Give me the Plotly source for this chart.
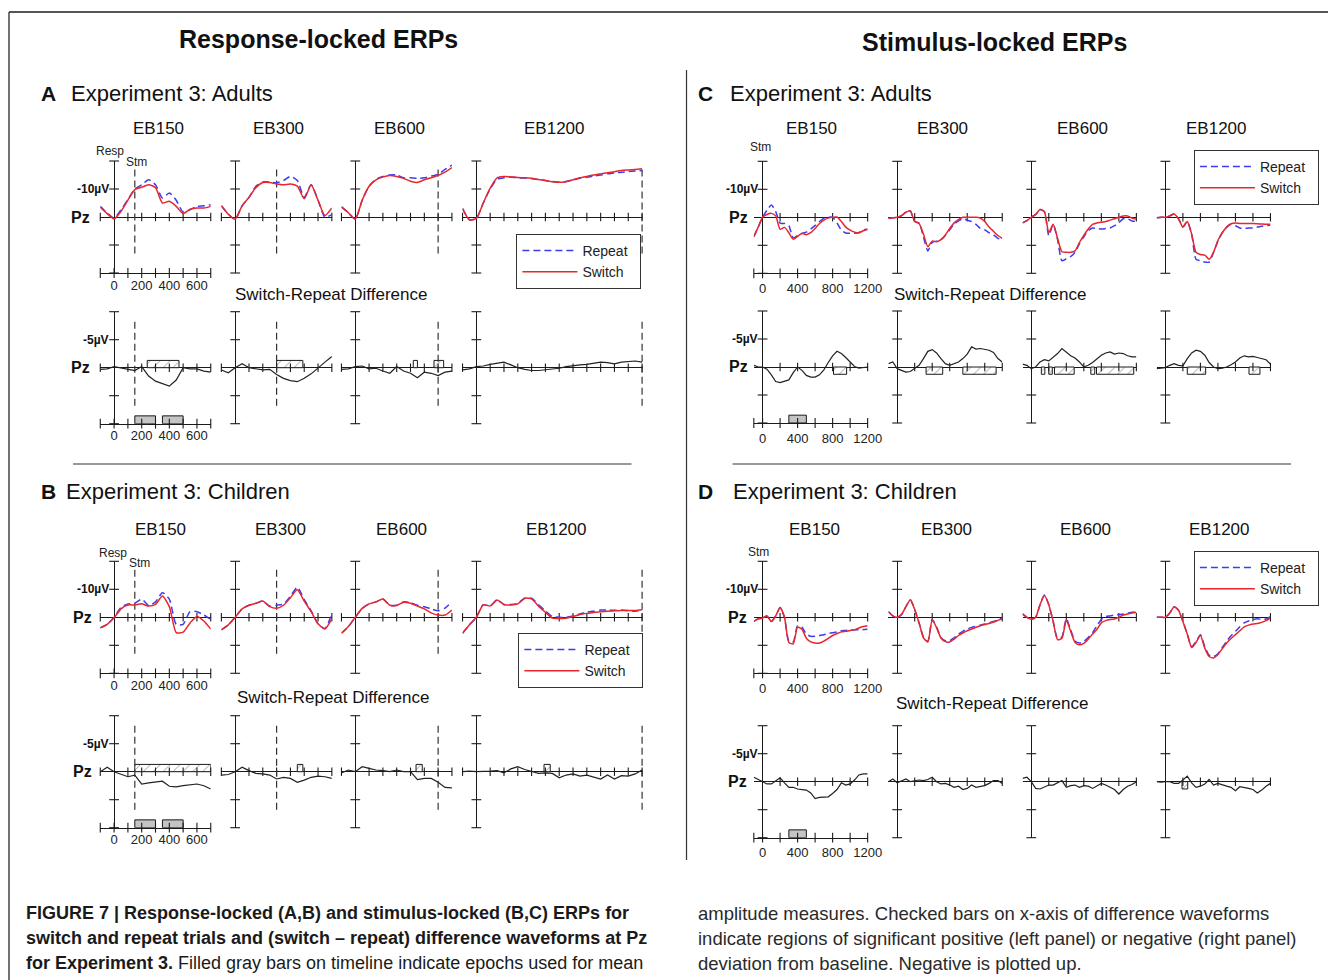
import plotly.graph_objects as go

W, H = 1342, 980
KX = 1342 / 1327  # horizontal compensation measured on the rendered picture


def PX(x):
    return min(1.0, x * KX / W)


def PY(y):
    return 1 - y / H


AX = '#1a1a1a'
BLUE = '#3c3cf0'
RED = '#e8262b'
FONT = 'Arial, Liberation Sans, sans-serif'
CAPFONT = 'Liberation Sans Narrow, Arial Narrow, Liberation Sans, Arial, sans-serif'

# ---------------- data (µV, negative plotted up) ----------------
T_RESP = list(range(-100, 701, 50))
T_LONG = list(range(-100, 1201, 50))
EB_LABELS = ['EB150', 'EB300', 'EB600', 'EB1200']
STIM_ONSET = [150, 300, 600, 1200]
RESP_TICKLABELS = [0, 200, 400, 600]
STIM_TICKLABELS = [0, 400, 800, 1200]
SERIES_NAMES = ['Repeat', 'Switch']

# A: response-locked, adults
A_EB150_REP = [-3.8, -1.4, 0.4, -2.6, -6.2, -10.0, -11.5, -13.3, -11.5, -6.8, -8.6, -6.0, -1.8, -2.6, -3.8, -4.0, -4.4]
A_EB150_SW = [-3.5, -1.2, 0.7, -2.0, -6.0, -9.8, -10.6, -11.5, -10.5, -5.0, -5.6, -3.8, -1.2, -2.8, -3.2, -3.2, -3.8]
A_EB300_REP = [-4.0, -1.0, 0.8, -4.0, -7.0, -11.0, -12.5, -12.5, -12.2, -13.0, -14.5, -13.0, -7.0, -11.5, -6.0, 0.0, -0.8]
A_EB300_SW = [-4.0, -1.0, 0.8, -4.0, -7.0, -10.5, -12.3, -12.3, -11.8, -11.5, -11.8, -11.0, -6.5, -11.5, -6.0, -0.5, -3.2]
A_EB600_REP = [-3.6, -1.5, 0.8, -6.0, -11.0, -13.5, -14.5, -15.0, -15.0, -14.0, -14.0, -13.8, -14.0, -14.6, -15.2, -17.0, -18.5]
A_EB600_SW = [-3.6, -1.5, 0.8, -6.0, -11.0, -13.3, -14.3, -14.8, -14.5, -13.8, -12.8, -12.3, -13.3, -14.0, -14.8, -16.0, -17.6]
A_EB1200_REP = [-3.0, 1.0, 0.5, -5.0, -10.0, -13.5, -14.0, -14.2, -14.0, -13.9, -13.7, -13.4, -13.0, -12.7, -12.5, -12.7,
                -13.2, -13.8, -14.2, -14.6, -15.0, -15.4, -15.7, -16.0, -16.2, -16.4, -16.6]
A_EB1200_SW = [-3.0, 1.0, 0.5, -5.0, -10.3, -14.0, -14.5, -14.3, -14.1, -14.0, -13.8, -13.4, -13.0, -12.6, -12.4, -12.6,
               -13.3, -14.0, -14.5, -15.0, -15.4, -15.8, -16.2, -16.6, -16.8, -17.0, -17.2]
A_EB150_DIF = [0.3, 0.2, -0.2, 0.0, 0.3, 0.5, -0.2, 1.5, 2.4, 2.8, 3.3, 2.2, 0.0, 0.2, 0.2, 0.6, 0.8]
A_EB300_DIF = [0.4, 0.9, 0.0, -0.7, 0.0, 0.2, 0.4, 0.3, 1.2, 1.9, 2.3, 2.5, 1.9, 1.1, 0.0, -1.0, -2.0]
A_EB600_DIF = [0.3, 0.2, -0.2, -0.3, 0.2, 0.1, 0.6, 1.0, -0.2, 0.6, 1.0, 1.8, 0.8, 1.0, 1.4, 0.8, 0.6]
A_EB1200_DIF = [0.4, 0.2, -0.2, -0.3, -0.6, -0.8, -1.0, -0.5, 0.0, 0.3, 0.5, 0.5, 0.4, 0.2, 0.1, -0.2, -0.4, -0.5,
                -0.6, -0.8, -1.0, -0.9, -0.7, -1.0, -1.1, -1.2, -1.0]
A_HATCH = [[(240, 470)], [(300, 490)], [(420, 450), (570, 640)], []]

# B: response-locked, children
B_EB150_REP = [3.8, 2.5, 0.0, -3.5, -4.8, -5.0, -6.5, -4.2, -5.5, -8.8, -6.5, 2.5, 2.5, -2.0, -2.0, -0.8, 0.7]
B_EB150_SW = [3.8, 2.5, 0.2, -3.0, -4.4, -4.4, -4.8, -4.0, -4.6, -7.6, -3.8, 5.5, 5.3, 2.0, -0.3, 1.3, 4.2]
B_EB300_REP = [4.5, 2.7, 0.0, -3.0, -4.3, -5.0, -5.8, -4.0, -4.3, -4.7, -7.5, -10.8, -6.3, -2.3, 2.3, 4.0, -1.3]
B_EB300_SW = [4.5, 2.7, 0.0, -3.0, -4.3, -5.0, -5.8, -3.8, -3.2, -4.3, -7.0, -9.8, -5.8, -2.0, 2.3, 4.2, 0.5]
B_EB600_REP = [5.7, 3.3, 0.0, -3.2, -4.8, -5.5, -6.5, -4.3, -4.3, -5.5, -5.2, -4.3, -3.8, -3.0, -2.3, -3.3, -5.6]
B_EB600_SW = [5.7, 3.3, 0.0, -3.2, -4.8, -5.5, -6.5, -4.3, -4.2, -5.4, -5.0, -4.0, -3.0, -1.6, -0.8, -0.8, -2.6]
B_EB1200_REP = [5.7, 2.7, 0.0, -4.5, -4.0, -6.3, -4.6, -4.6, -5.0, -6.8, -6.8, -4.5, -2.3, -0.3, 0.0, 0.0, -0.5,
                -1.2, -1.8, -2.2, -2.6, -2.6, -2.5, -2.6, -2.4, -2.2, -2.6]
B_EB1200_SW = [5.7, 2.7, 0.0, -4.5, -4.0, -6.2, -4.5, -4.4, -4.8, -6.8, -6.6, -4.0, -1.8, 0.3, 0.4, 0.3, -0.3,
               -1.0, -1.4, -1.7, -2.0, -2.2, -2.3, -2.4, -2.4, -2.4, -2.7]
B_EB150_DIF = [0.0, -0.8, 0.0, 0.5, 0.9, 0.6, 2.2, 2.0, 1.8, 1.7, 2.6, 2.7, 2.5, 2.3, 2.2, 2.5, 3.1]
B_EB300_DIF = [0.6, 0.5, 0.0, -0.8, -0.2, 0.3, 0.4, 0.6, 1.3, 1.0, 1.2, 1.9, 1.5, 1.0, 0.8, 0.9, 1.2]
B_EB600_DIF = [0.2, -0.3, 0.0, -0.9, -0.6, -0.3, -0.2, 0.0, -0.3, 0.0, 0.0, 1.4, 1.2, 1.2, 1.9, 2.8, 2.9]
B_EB1200_DIF = [0.0, -0.1, 0.0, 0.0, -0.1, -0.2, 0.2, -0.5, -0.9, -0.4, 0.0, 0.3, 0.2, 0.3, 1.1, 0.6, 0.4, 0.8,
                0.6, 0.9, 1.3, 0.6, 1.3, 0.7, 0.8, 0.4, -0.3]
B_HATCH = [[(150, 700)], [(450, 490)], [(440, 485)], [(490, 535)]]

# C: stimulus-locked, adults
C_EB150_REP = [6.9, 3.5, 0.0, -2.5, -4.4, -2.0, 2.1, 2.2, 3.0, 7.4, 6.5, 5.8, 5.3, 4.2, 2.9, 1.5, 0.4, 0.0, 0.0, 2.0,
               4.6, 5.6, 5.7, 5.7, 5.5, 4.5, 4.3]
C_EB150_SW = [6.9, 3.5, 0.0, -1.0, -1.4, -0.5, 4.3, 3.6, 5.5, 7.8, 6.8, 5.7, 6.2, 5.5, 4.0, 2.2, 1.0, 0.3, 0.0, -0.1,
              1.5, 3.5, 4.6, 5.3, 5.5, 4.8, 4.3]
C_EB300_REP = [0.4, 0.2, 0.0, -0.6, -1.8, -2.3, 1.5, 2.0, 7.0, 12.0, 9.0, 8.5, 8.0, 6.5, 4.5, 2.5, 1.3, 0.5, 1.0, 1.5,
               2.5, 4.0, 4.5, 5.5, 6.3, 7.5, 8.1]
C_EB300_SW = [0.4, 0.2, 0.0, -0.6, -1.8, -2.3, 1.5, 2.2, 6.0, 10.5, 8.5, 8.7, 8.0, 6.3, 4.0, 2.0, 0.8, 0.0, 0.0, 0.0,
              0.0, 0.3, 1.5, 3.5, 5.0, 6.5, 7.5]
C_EB600_REP = [2.0, 1.2, 0.0, -1.0, -2.8, -2.0, 6.5, 2.5, 8.0, 15.5, 14.8, 14.0, 12.5, 9.5, 7.0, 4.8, 3.8, 4.0, 4.2,
               4.0, 3.8, 3.0, 2.0, 0.5, 0.5, 1.3, 1.5]
C_EB600_SW = [2.0, 1.2, 0.0, -1.0, -2.8, -2.0, 5.5, 2.5, 7.5, 12.3, 12.5, 12.5, 12.0, 9.0, 6.5, 4.2, 2.5, 2.0, 1.8,
              1.5, 1.0, 0.5, 0.0, -0.5, -0.5, 0.3, 0.7]
C_EB1200_REP = [0.2, 0.0, 0.0, -0.5, -1.2, 0.5, 3.5, 1.5, 6.0, 15.0, 15.5, 16.0, 16.0, 12.5, 8.5, 5.5, 3.5, 2.5, 3.0,
                3.8, 4.0, 3.8, 3.8, 3.5, 3.2, 3.0, 2.8]
C_EB1200_SW = [0.2, 0.0, 0.0, -0.5, -1.2, 0.5, 3.5, 1.5, 6.0, 12.5, 13.3, 13.5, 15.0, 12.5, 8.3, 5.5, 3.5, 2.3, 2.0,
               2.2, 2.2, 2.2, 2.2, 2.3, 2.4, 2.5, 2.5]
C_EB150_DIF = [-0.3, 0.0, 0.0, 0.4, 1.4, 2.6, 2.8, 2.6, 2.3, 1.0, 0.0, 0.6, 1.5, 1.8, 1.8, 1.4, 0.5, -0.8, -2.0, -2.8,
               -2.4, -1.7, -0.8, -0.1, 0.2, 0.1, 0.0]
C_EB300_DIF = [-0.6, -0.9, 0.3, 0.6, 0.9, 0.8, 0.3, -0.3, -1.5, -2.8, -3.1, -2.5, -1.5, -0.6, -0.3, -0.6, -0.9, -1.5,
               -2.3, -3.6, -3.2, -3.3, -3.2, -3.0, -2.6, -1.5, -0.9]
C_EB600_DIF = [-0.5, -0.3, 0.3, 0.0, -0.9, -1.3, -1.1, -1.8, -2.4, -3.3, -2.6, -2.0, -1.6, -0.9, 0.0, -0.3, -0.8, -1.4,
               -2.1, -2.5, -2.7, -2.3, -2.5, -2.4, -2.0, -1.8, -1.8]
C_EB1200_DIF = [0.3, 0.2, 0.1, -0.3, -0.6, -0.3, -0.2, -1.5, -2.5, -3.0, -2.8, -2.1, -0.8, 0.0, 0.3, 0.2, 0.0, -0.4,
                -0.9, -1.6, -2.0, -1.8, -1.9, -1.7, -1.5, -1.3, -0.5]
C_HATCH = [[(810, 960)], [(330, 520), (750, 1130)],
           [(115, 155), (200, 240), (265, 490), (680, 725), (745, 1170)], [(250, 460), (955, 1080)]]

# D: stimulus-locked, children
D_EB150_REP = [1.5, 0.5, 0.3, -0.5, 1.5, -0.5, -3.5, 0.0, 8.5, 8.8, 3.0, 3.5, 6.0, 6.8, 6.8, 6.5, 6.2, 5.8, 5.5, 5.2,
               4.8, 4.7, 4.6, 4.5, 4.4, 4.4, 4.3]
D_EB150_SW = [1.5, 0.5, 0.3, -0.5, 1.5, -0.5, -3.5, 0.0, 9.0, 9.5, 3.5, 4.3, 7.5, 8.8, 9.2, 9.2, 8.5, 7.5, 6.5, 5.8,
              5.2, 5.0, 4.7, 4.4, 3.8, 3.3, 3.0]
D_EB300_REP = [-2.0, -0.5, 0.0, -1.0, -3.8, -6.3, -2.8, 2.0, 7.0, 8.6, 0.8, 3.5, 7.2, 8.4, 8.4, 7.3, 6.0, 5.0, 4.2,
               3.6, 3.2, 2.8, 2.4, 2.0, 1.5, 0.9, 0.3]
D_EB300_SW = [-2.0, -0.5, 0.0, -1.0, -3.8, -6.3, -2.8, 2.0, 7.3, 8.8, 1.0, 3.7, 7.4, 8.7, 8.8, 7.8, 6.5, 5.6, 4.8,
              4.2, 3.6, 3.0, 2.6, 2.2, 1.7, 1.1, 0.5]
D_EB600_REP = [-1.2, 0.0, 0.7, 0.0, -4.5, -8.0, -4.5, 1.5, 7.5, 7.0, 0.5, 4.5, 8.5, 9.2, 8.6, 7.2, 5.5, 3.0, 0.8,
               -0.3, -0.5, -0.8, -1.0, -1.2, -1.5, -1.8, -2.0]
D_EB600_SW = [-1.2, 0.0, 0.7, 0.0, -4.5, -7.8, -4.5, 1.5, 8.0, 7.5, 1.0, 5.0, 9.0, 9.8, 9.3, 7.8, 6.0, 4.3, 2.0,
              1.2, 0.8, 0.6, 0.0, -0.8, -1.2, -1.5, -1.8]
D_EB1200_REP = [0.0, 0.0, 0.0, -1.5, -3.8, -2.5, 1.5, 6.0, 10.5, 8.7, 6.2, 10.5, 13.5, 14.0, 13.0, 10.8, 8.5, 6.6,
                5.0, 3.4, 2.0, 1.3, 0.8, 0.5, 0.8, 0.6, -0.2]
D_EB1200_SW = [0.0, 0.0, 0.0, -1.5, -3.8, -2.5, 1.5, 6.0, 10.8, 9.0, 6.4, 11.0, 14.0, 14.5, 13.3, 11.2, 9.2, 7.6,
               6.2, 4.8, 3.4, 2.8, 2.4, 2.2, 1.8, 1.2, 0.2]
D_EB150_DIF = [-0.8, -0.4, 0.0, 0.4, 0.4, -0.1, -0.7, 0.2, 1.0, 1.0, 1.3, 1.4, 1.5, 2.0, 3.0, 2.8, 2.7, 2.7, 2.1,
               1.4, 0.2, 0.6, 0.4, -0.3, -1.2, -1.4, -1.4]
D_EB300_DIF = [0.0, -0.5, 0.2, -0.2, -0.5, 0.0, -0.2, -0.3, -0.2, -0.4, -0.8, 0.0, 0.4, 0.3, 0.6, 1.0, 0.8, 1.4, 1.2,
               0.6, 1.0, 0.9, 0.7, 0.3, -0.2, -0.2, 0.3]
D_EB600_DIF = [-0.6, -0.8, 0.0, 1.2, 1.3, 1.0, 0.6, 0.6, 0.2, -0.2, 1.0, 0.7, 0.6, 1.0, 0.7, 0.8, 1.2, 0.8, 0.3, 0.6,
               1.0, 1.4, 2.2, 1.4, 0.8, 0.5, 0.0]
D_EB1200_DIF = [0.0, 0.1, 0.0, 0.0, 0.3, 0.3, -0.3, -1.0, 0.2, 1.0, 0.8, 0.4, -0.4, 0.6, 0.3, 0.6, 0.8, 1.0, 1.6,
                0.9, 1.0, 1.2, 1.4, 2.0, 1.5, 0.8, 0.3]
D_HATCH = [[], [], [], [(190, 255)]]

GRAY_RESP = [(150, 300), (350, 500)]
GRAY_STIM = [(300, 500)]

# ---------------- layout geometry (pixels) ----------------
SECTIONS = [
    dict(lock='resp', rep=[A_EB150_REP, A_EB300_REP, A_EB600_REP, A_EB1200_REP],
         sw=[A_EB150_SW, A_EB300_SW, A_EB600_SW, A_EB1200_SW],
         dif=[A_EB150_DIF, A_EB300_DIF, A_EB600_DIF, A_EB1200_DIF], hatch=A_HATCH, gray=GRAY_RESP,
         x0=[114, 235, 355, 476], top_pz=217, dif_pz=367.7, eb_y=128, eb_x=[158, 278, 399, 554],
         srd=(331, 294), legend=(516, 234), pz_x=80, resp=(110, 151), stm=(136, 162), legname='legend'),
    dict(lock='resp', rep=[B_EB150_REP, B_EB300_REP, B_EB600_REP, B_EB1200_REP],
         sw=[B_EB150_SW, B_EB300_SW, B_EB600_SW, B_EB1200_SW],
         dif=[B_EB150_DIF, B_EB300_DIF, B_EB600_DIF, B_EB1200_DIF], hatch=B_HATCH, gray=GRAY_RESP,
         x0=[114, 235, 355, 476], top_pz=617.3, dif_pz=771.7, eb_y=529, eb_x=[160, 280, 401, 556],
         srd=(333, 697), legend=(518, 633), pz_x=82, resp=(113, 553), stm=(139, 563), legname='legend2'),
    dict(lock='stim', rep=[C_EB150_REP, C_EB300_REP, C_EB600_REP, C_EB1200_REP],
         sw=[C_EB150_SW, C_EB300_SW, C_EB600_SW, C_EB1200_SW],
         dif=[C_EB150_DIF, C_EB300_DIF, C_EB600_DIF, C_EB1200_DIF], hatch=C_HATCH, gray=GRAY_STIM,
         x0=[762, 896.5, 1030.5, 1164.5], top_pz=217.3, dif_pz=367, eb_y=128, eb_x=[811, 942, 1082, 1216],
         srd=(989, 294), legend=(1193, 150), pz_x=738, resp=None, stm=(760, 147), legname='legend3'),
    dict(lock='stim', rep=[D_EB150_REP, D_EB300_REP, D_EB600_REP, D_EB1200_REP],
         sw=[D_EB150_SW, D_EB300_SW, D_EB600_SW, D_EB1200_SW],
         dif=[D_EB150_DIF, D_EB300_DIF, D_EB600_DIF, D_EB1200_DIF], hatch=D_HATCH, gray=GRAY_STIM,
         x0=[762, 896.5, 1030.5, 1164.5], top_pz=617.3, dif_pz=781.7, eb_y=529, eb_x=[814, 946, 1085, 1219],
         srd=(991, 703), legend=(1193, 551), pz_x=737, resp=None, stm=(758, 552), legname='legend4'),
]

fig = go.Figure()
layout_axes = {}
annotations = []
counter = [0]


def add_axes(x0, scale, trange, pz, ylim, bottom_ticks=None, standoff=0):
    counter[0] += 1
    i = counter[0]
    sfx = '' if i == 1 else str(i)
    xl = x0 + trange[0] * scale
    xr = x0 + trange[1] * scale
    half = 56
    xa = dict(domain=[PX(xl), PX(xr)], range=list(trange), anchor='y' + sfx, showgrid=False,
              zeroline=True, zerolinecolor=AX, zerolinewidth=1.3, showline=False,
              showticklabels=False, ticks='', fixedrange=True)
    if bottom_ticks is not None:
        xa.update(showline=True, linecolor=AX, linewidth=1.3, showticklabels=True,
                  tickmode='array', tickvals=bottom_ticks, ticktext=[str(v) for v in bottom_ticks],
                  tickfont=dict(size=13, color='#222', family=FONT), ticklabelstandoff=standoff)
    ya = dict(domain=[PY(pz + half), PY(pz - half)], range=[ylim, -ylim], anchor='x' + sfx,
              showgrid=False, zeroline=True, zerolinecolor=AX, zerolinewidth=1.3,
              showticklabels=False, ticks='', showline=False, fixedrange=True)
    layout_axes['xaxis' + sfx] = xa
    layout_axes['yaxis' + sfx] = ya
    return 'x' + sfx, 'y' + sfx


def tick_marks(xr, yr, xs, ys, symbol, size):
    fig.add_trace(go.Scatter(x=xs, y=ys, xaxis=xr, yaxis=yr, mode='markers', cliponaxis=False,
                             marker=dict(symbol=symbol, size=size, color=AX, line=dict(color=AX, width=1.1)),
                             showlegend=False, hoverinfo='skip'))


def bar(xr, yr, a, b, base, length, fill, pattern):
    marker = dict(color=fill, line=dict(color=AX, width=1))
    if pattern:
        marker['pattern'] = dict(shape='/', fgcolor=AX, bgcolor='white', size=7, solidity=0.12)
    fig.add_trace(go.Bar(x=[(a + b) / 2], width=[b - a], y=[length], base=[base], xaxis=xr, yaxis=yr,
                         marker=marker, showlegend=False, hoverinfo='skip'))


for sec in SECTIONS:
    resp = sec['lock'] == 'resp'
    scale = 0.138 if resp else 0.0875
    for c in range(4):
        if resp:
            t = T_LONG if c == 3 else T_RESP
            trange = (-100, 1210) if c == 3 else (-100, 700)
            zticks = [v for v in range(-100, trange[1] + 1, 100) if v != 0 and v <= 1200]
            bticks_marks = list(range(-100, 701, 100))
            blabels = RESP_TICKLABELS
        else:
            t = T_LONG
            trange = (-100, 1200)
            zticks = list(range(200, 1201, 200))
            bticks_marks = [-100] + list(range(0, 1201, 200))
            blabels = STIM_TICKLABELS
        x0 = sec['x0'][c]
        for row in ('top', 'dif'):
            top = row == 'top'
            pz = sec['top_pz'] if top else sec['dif_pz']
            lim = 20 if top else 10
            xr, yr = add_axes(x0, scale, trange, pz, lim, blabels if c == 0 else None,
                              0 if resp else 3)
            tick_marks(xr, yr, [0] * 4, [-lim, -lim / 2, lim / 2, lim], 'line-ew', 7)
            tick_marks(xr, yr, zticks, [0] * len(zticks), 'line-ns', 6)
            if c == 0:
                tick_marks(xr, yr, bticks_marks, [lim] * len(bticks_marks), 'line-ns', 7)
            if resp:
                s = STIM_ONSET[c]
                ext = (-17, 13) if top else (-8.2, 6.8)
                fig.add_trace(go.Scatter(x=[s, s], y=list(ext), xaxis=xr, yaxis=yr, mode='lines',
                                         line=dict(color='#333', width=1.2, dash='7px,4px'),
                                         showlegend=False, hoverinfo='skip'))
            if top:
                for name, vals, color, dash in ((SERIES_NAMES[0], sec['rep'][c], BLUE, '7px,4px'),
                                                (SERIES_NAMES[1], sec['sw'][c], RED, 'solid')):
                    fig.add_trace(go.Scatter(x=t, y=vals, xaxis=xr, yaxis=yr, mode='lines',
                                             name=name + '\u00a0\u00a0',
                                             line=dict(color=color, width=1.5, dash=dash, shape='spline',
                                                       smoothing=0.6),
                                             showlegend=(c == 0), legend=sec['legname'], hoverinfo='skip'))
            else:
                hsign = -1.3 if resp else 1.3
                for (a, b) in sec['hatch'][c]:
                    bar(xr, yr, a, b, 0, hsign, 'white', (b - a) > 30 or not resp)
                if c == 0:
                    for (a, b) in sec['gray']:
                        bar(xr, yr, a, b, lim, -1.4, '#c4c4c4', False)
                fig.add_trace(go.Scatter(x=t, y=sec['dif'][c], xaxis=xr, yaxis=yr, mode='lines',
                                         line=dict(color='#222', width=1.2), showlegend=False,
                                         hoverinfo='skip'))
            if c == 0:
                lab = '-10µV' if top else '-5µV'
                annotations.append(dict(x=PX(x0 - 3), y=PY(pz - 28), xref='paper', yref='paper',
                                        text='<b>' + lab + '</b>', showarrow=False, xanchor='right',
                                        yanchor='middle', font=dict(size=12, color='#111', family=FONT)))
                annotations.append(dict(x=PX(sec['pz_x']), y=PY(pz), xref='paper', yref='paper',
                                        text='<b>Pz</b>', showarrow=False, xanchor='center',
                                        yanchor='middle', font=dict(size=16, color='#111', family=FONT)))
        annotations.append(dict(x=PX(sec['eb_x'][c]), y=PY(sec['eb_y']), xref='paper', yref='paper',
                                text=EB_LABELS[c], showarrow=False, xanchor='center', yanchor='middle',
                                font=dict(size=17, color='#111', family=FONT)))
    annotations.append(dict(x=PX(sec['srd'][0]), y=PY(sec['srd'][1]), xref='paper', yref='paper',
                            text='Switch-Repeat Difference', showarrow=False, xanchor='center',
                            yanchor='middle', font=dict(size=17, color='#111', family=FONT)))
    if sec['resp']:
        annotations.append(dict(x=PX(sec['resp'][0]), y=PY(sec['resp'][1]), xref='paper', yref='paper',
                                text='Resp', showarrow=False, xanchor='center', yanchor='middle',
                                font=dict(size=12, color='#222', family=FONT)))
    annotations.append(dict(x=PX(sec['stm'][0]), y=PY(sec['stm'][1]), xref='paper', yref='paper',
                            text='Stm', showarrow=False, xanchor='center', yanchor='middle',
                            font=dict(size=12, color='#222', family=FONT)))

for txt, x, y in (('Response-locked ERPs', 318, 39), ('Stimulus-locked ERPs', 994, 42)):
    annotations.append(dict(x=PX(x), y=PY(y), xref='paper', yref='paper', text='<b>' + txt + '</b>',
                            showarrow=False, xanchor='center', yanchor='middle',
                            font=dict(size=25, color='#111', family=FONT)))
for letter, txt, xl, xt, y in (('A', 'Experiment 3: Adults', 48, 69, 93),
                                ('B', 'Experiment 3: Children', 48, 64, 491),
                                ('C', 'Experiment 3: Adults', 705, 727, 93),
                                ('D', 'Experiment 3: Children', 705, 730, 491)):
    annotations.append(dict(x=PX(xl), y=PY(y), xref='paper', yref='paper', text='<b>' + letter + '</b>',
                            showarrow=False, xanchor='center', yanchor='middle',
                            font=dict(size=21, color='#111', family=FONT)))
    annotations.append(dict(x=PX(xt), y=PY(y), xref='paper', yref='paper', text=txt,
                            showarrow=False, xanchor='left', yanchor='middle',
                            font=dict(size=22, color='#111', family=FONT)))

CAPTION_LEFT = ['<b>FIGURE 7 | Response-locked (A,B) and stimulus-locked (B,C) ERPs for</b>',
                '<b>switch and repeat trials and (switch – repeat) difference waveforms at Pz</b>',
                '<b>for Experiment 3.</b> Filled gray bars on timeline indicate epochs used for mean']
CAPTION_RIGHT = ['amplitude measures. Checked bars on x-axis of difference waveforms',
                 'indicate regions of significant positive (left panel) or negative (right panel)',
                 'deviation from baseline. Negative is plotted up.']
for i, (l, r) in enumerate(zip(CAPTION_LEFT, CAPTION_RIGHT)):
    y = 913 + 25 * i
    annotations.append(dict(x=PX(24), y=PY(y), xref='paper', yref='paper', text=l, showarrow=False,
                            xanchor='left', yanchor='middle', font=dict(size=18, color='#1a1a1a', family=CAPFONT)))
    annotations.append(dict(x=PX(695), y=PY(y), xref='paper', yref='paper', text=r, showarrow=False,
                            xanchor='left', yanchor='middle', font=dict(size=18.5, color='#2a2a2a', family=CAPFONT)))

shapes = [
    dict(type='line', xref='paper', yref='paper', x0=PX(9), x1=1, y0=PY(12), y1=PY(12),
         line=dict(color='#555', width=2)),
    dict(type='line', xref='paper', yref='paper', x0=PX(9), x1=PX(9), y0=PY(12), y1=0,
         line=dict(color='#444', width=1.5)),
    dict(type='line', xref='paper', yref='paper', x0=PX(686), x1=PX(686), y0=PY(70), y1=PY(860),
         line=dict(color='#333', width=1.2)),
    dict(type='line', xref='paper', yref='paper', x0=PX(73), x1=PX(631), y0=PY(464), y1=PY(464),
         line=dict(color='#333', width=1.2)),
    dict(type='line', xref='paper', yref='paper', x0=PX(732), x1=PX(1290), y0=PY(464), y1=PY(464),
         line=dict(color='#333', width=1.2)),
]

legend_common = dict(xanchor='left', yanchor='top', bordercolor='#333', borderwidth=1, bgcolor='white',
                     font=dict(size=14, color='#222', family=FONT), tracegroupgap=0, itemwidth=55)
legends = {}
for sec in SECTIONS:
    lg = dict(legend_common)
    lg.update(x=PX(sec['legend'][0]), y=PY(sec['legend'][1]))
    legends[sec['legname']] = lg

fig.update_layout(width=W, height=H, margin=dict(l=0, r=0, t=0, b=0), paper_bgcolor='white',
                  plot_bgcolor='rgba(0,0,0,0)', showlegend=True, barmode='overlay', hovermode=False,
                  annotations=annotations, shapes=shapes, font=dict(family=FONT), **layout_axes, **legends)
fig.write_html('out.html')
